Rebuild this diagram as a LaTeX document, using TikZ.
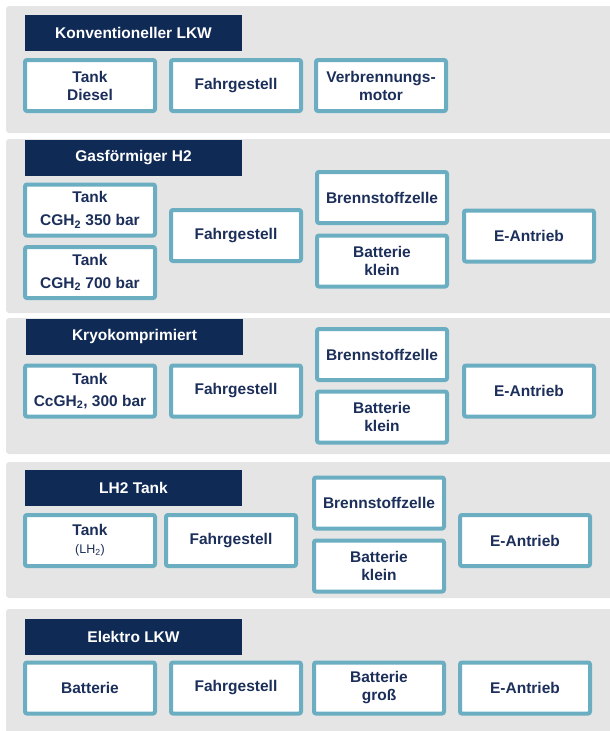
\documentclass[tikz,border=0pt]{standalone}
\usepackage{fontspec}
\setmainfont{Liberation Sans}
\definecolor{panelgray}{HTML}{E5E5E5}
\definecolor{headnavy}{HTML}{0F2A55}
\definecolor{boxteal}{HTML}{6BAEC1}
\definecolor{textnavy}{HTML}{1C2F5A}
\begin{document}
\begin{tikzpicture}[x=1pt, y=-1pt,
  panel/.style={fill=panelgray, rounded corners=3pt},
  head/.style={fill=headnavy, text=white, font=\bfseries\fontsize{15.5}{18}\selectfont,
    minimum width=217pt, minimum height=36pt, inner sep=0pt},
  part/.style={draw=boxteal, line width=4pt, fill=white, rounded corners=2pt,
    text=textnavy, font=\bfseries\fontsize{15.5}{18}\selectfont, align=center,
    minimum width=130pt, minimum height=51pt, inner sep=0pt}]
\useasboundingbox (0,0) rectangle (610,731);
% panels
\fill[panel] (6,6) rectangle (616,133);
\fill[panel] (6,139) rectangle (616,313);
\fill[panel] (6,318) rectangle (616,454);
\fill[panel] (6,462) rectangle (616,598);
\fill[panel] (6,609) rectangle (616,740);

% Konventioneller LKW
\node[head] (headA) at (133.5,33) {Konventioneller LKW};
\node[part] (tankA) at (90,85.5) {Tank\\Diesel};
\node[part] (chassisA) at (236,85.5) {Fahrgestell};
\node[part] (motorA) at (381,85.5) {Verbrennungs-\\motor};

% Gasfoermiger H2
\node[head] (headB) at (133.5,158) {Gasförmiger H2};
\node[part] (tankB) at (90,210) {Tank\\[5pt]CGH\textsubscript{2} 350 bar};
\node[part] (tankBB) at (90,272.5) {Tank\\[5pt]CGH\textsubscript{2} 700 bar};
\node[part] (chassisB) at (236,235.5) {Fahrgestell};
\node[part] (fuelcellB) at (382,197.5) {Brennstoffzelle};
\node[part] (batteryB) at (382,261) {Batterie\\klein};
\node[part] (driveB) at (529,236) {E-Antrieb};

% Kryokomprimiert
\node[head] (headC) at (134.5,336.5) {Kryokomprimiert};
\node[part] (tankC) at (90,391) {Tank\\[4pt]CcGH\textsubscript{2}, 300 bar};
\node[part] (chassisC) at (236,391) {Fahrgestell};
\node[part] (fuelcellC) at (382,354.5) {Brennstoffzelle};
\node[part] (batteryC) at (382,417) {Batterie\\klein};
\node[part] (driveC) at (529,391) {E-Antrieb};

% LH2 Tank
\node[head] (headD) at (133.5,488) {LH2 Tank};
\node[part] (tankD) at (90,540.5) {Tank\\{\mdseries\fontsize{12.5}{14}\selectfont (LH\textsubscript{2})}};
\node[part] (chassisD) at (231,540.5) {Fahrgestell};
\node[part] (fuelcellD) at (379,503) {Brennstoffzelle};
\node[part] (batteryD) at (379,566) {Batterie\\klein};
\node[part] (driveD) at (525,540.5) {E-Antrieb};

% Elektro LKW
\node[head] (headE) at (133.5,636.5) {Elektro LKW};
\node[part] (batteryE) at (90,688) {Batterie};
\node[part] (chassisE) at (236,688) {Fahrgestell};
\node[part] (bigbatE) at (379,688) {Batterie\\groß};
\node[part] (driveE) at (525,688) {E-Antrieb};
\end{tikzpicture}
\end{document}
